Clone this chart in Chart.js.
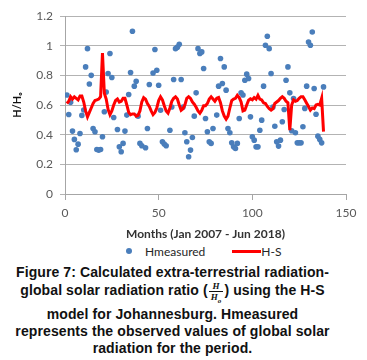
<!DOCTYPE html>
<html>
<head>
<meta charset="utf-8">
<script src="https://cdn.jsdelivr.net/npm/chart.js@4.4.1/dist/chart.umd.min.js"></script>
<style>
  body { margin: 0; background: #fff; width: 367px; height: 360px; overflow: hidden; }
  #wrap { position: relative; width: 367px; height: 244px; }
  #legend { height: 14px; display: flex; align-items: center; padding-left: 126px;
            font: 12px Lato, sans-serif; color: #262626; }
  #legend .dot { width: 6px; height: 6px; border-radius: 50%; margin-right: 13px; }
  #legend .line { width: 29px; height: 3px; }
  #legend .item { display: flex; align-items: center; margin-right: 27px; }
  #caption { width: 345px; margin-top: 6px; text-align: center; letter-spacing: 0.1px;
             font: bold 14px "Liberation Sans", Arial, sans-serif; line-height: 17px; color: #111; }
  #caption .tall { margin-bottom: 4px; }
  .frac { display: inline-block; vertical-align: middle; font: italic bold 9px "Liberation Serif", serif;
          line-height: 10px; text-align: center; margin: 0 1px; }
  .frac span { display: block; padding: 0 2px; }
  .frac .num { border-bottom: 1px solid #111; }
</style>
</head>
<body>
<div id="wrap"><canvas id="chart"></canvas></div>
<div id="legend"></div>
<div id="caption">
  <div>Figure 7: Calculated extra-terrestrial radiation-</div>
  <div class="tall">global solar radiation ratio (<span class="frac"><span class="num">H</span><span>H<sub style="font-size:7px;line-height:0">o</sub></span></span>) using the H-S</div>
  <div>model for Johannesburg. Hmeasured</div>
  <div>represents the observed values of global solar</div>
  <div>radiation for the period.</div>
</div>
<script>
// Hmeasured: month number and observed H/Ho
const measuredMonths = [1, 2, 3, 4, 5, 6, 7, 8, 9, 10, 11, 12, 13, 14, 15, 16, 17, 18, 19, 20,
  21, 22, 23, 24, 25, 26, 28, 29, 30, 31, 32, 33, 34, 35, 36, 37, 38, 39, 40, 41,
  43, 44, 45, 47, 48, 49, 50, 51, 52, 53, 54, 56, 57, 58, 59, 60, 61, 62, 63, 64,
  65, 66, 67, 68, 69, 70, 71, 72, 73, 74, 75, 76, 77, 78, 79, 81, 82, 83, 84, 85,
  86, 87, 88, 89, 90, 91, 92, 93, 94, 95, 96, 97, 98, 99, 100, 101, 102, 103, 104, 105,
  106, 107, 108, 109, 110, 111, 112, 113, 114, 115, 116, 117, 118, 119, 120, 121, 122, 123, 124, 125,
  126, 127, 128, 129, 130, 131, 132, 133, 134, 135, 136, 137, 138];
const measuredValues = [0.667, 0.536, 0.618, 0.424, 0.368, 0.298, 0.336, 0.408, 0.53, 0.566, 0.857, 0.98, 0.742, 0.80, 0.442, 0.42, 0.30, 0.296, 0.30, 0.386,
  0.554, 0.688, 0.812, 0.947, 0.785, 0.516, 0.435, 0.318, 0.285, 0.341, 0.424, 0.532, 0.671, 0.819, 1.097, 0.727, 0.76, 0.525, 0.341, 0.325,
  0.312, 0.442, 0.738, 0.816, 0.974, 0.834, 0.733, 0.565, 0.352, 0.337, 0.325, 0.43, 0.587, 0.772, 0.98, 0.99, 1.01, 0.772, 0.587, 0.413,
  0.352, 0.251, 0.296, 0.381, 0.525, 0.682, 0.98, 0.947, 0.958, 0.846, 0.509, 0.42, 0.352, 0.341, 0.442, 0.532, 0.727, 0.913, 0.745, 0.857,
  0.70, 0.442, 0.413, 0.345, 0.318, 0.307, 0.341, 0.509, 0.682, 0.667, 0.767, 0.808, 0.779, 0.52, 0.386, 0.363, 0.318, 0.318, 0.43, 0.498,
  0.727, 1.003, 1.063, 0.98, 0.812, 0.587, 0.457, 0.352, 0.323, 0.363, 0.487, 0.57, 0.767, 0.857, 0.682, 0.426, 0.644, 0.413, 0.345, 0.345,
  0.345, 0.453, 0.577, 0.727, 1.025, 1.003, 1.092, 0.711, 0.538, 0.39, 0.368, 0.345, 0.722];

// H-S model, one value per month starting Jan 2007 (month 1)
const hsValues = [0.61, 0.625, 0.656, 0.64, 0.655, 0.645, 0.635, 0.66, 0.66, 0.62,
  0.56, 0.52, 0.55, 0.58, 0.61, 0.63, 0.634, 0.64, 0.656, 0.95,
  0.68, 0.64, 0.57, 0.535, 0.56, 0.60, 0.63, 0.64, 0.62, 0.625,
  0.645, 0.645, 0.60, 0.55, 0.535, 0.54, 0.54, 0.525, 0.53, 0.56,
  0.62, 0.65, 0.64, 0.61, 0.59, 0.56, 0.535, 0.55, 0.58, 0.63,
  0.655, 0.635, 0.595, 0.56, 0.545, 0.58, 0.625, 0.645, 0.655, 0.64,
  0.60, 0.565, 0.575, 0.60, 0.645, 0.656, 0.645, 0.62, 0.605, 0.585,
  0.56, 0.545, 0.565, 0.595, 0.595, 0.61, 0.64, 0.655, 0.64, 0.625,
  0.645, 0.65, 0.615, 0.56, 0.525, 0.505, 0.525, 0.58, 0.63, 0.64,
  0.645, 0.665, 0.65, 0.62, 0.56, 0.565, 0.60, 0.632, 0.642, 0.635,
  0.65, 0.64, 0.665, 0.64, 0.634, 0.615, 0.61, 0.59, 0.575, 0.566,
  0.575, 0.61, 0.62, 0.63, 0.645, 0.656, 0.645, 0.625, 0.615, 0.43,
  0.60, 0.634, 0.625, 0.63, 0.645, 0.656, 0.656, 0.635, 0.612, 0.59,
  0.566, 0.58, 0.575, 0.60, 0.605, 0.60, 0.645, 0.42];

const xTicks = [0, 50, 100, 150];
const yTicks = [0, 0.2, 0.4, 0.6, 0.8, 1, 1.2];

const blue = '#4a7ebb';
const red = '#ff0000';
const tickFont = { family: 'Lato', size: 12 };

const measuredPoints = measuredMonths.map((m, i) => ({ x: m, y: measuredValues[i] }));
const hsPoints = hsValues.map((v, i) => ({ x: i + 1, y: v }));

const ctx = document.getElementById('chart').getContext('2d');
const chart = new Chart(ctx, {
  type: 'scatter',
  data: {
    datasets: [
      {
        label: 'Hmeasured',
        data: measuredPoints,
        backgroundColor: blue,
        borderColor: blue,
        pointRadius: 2.8,
        borderWidth: 0,
        order: 1
      },
      {
        label: 'H-S',
        data: hsPoints,
        showLine: true,
        borderColor: red,
        backgroundColor: red,
        borderWidth: 3,
        pointRadius: 0,
        tension: 0,
        order: 0
      }
    ]
  },
  options: {
    responsive: true,
    maintainAspectRatio: false,
    animation: false,
    layout: { padding: { top: 16, right: 21, left: 0, bottom: 0 } },
    plugins: {
      legend: { display: false },
      tooltip: { enabled: false }
    },
    scales: {
      x: {
        type: 'linear',
        min: 0,
        max: 150,
        afterBuildTicks: axis => { axis.ticks = xTicks.map(v => ({ value: v })); },
        afterFit: axis => { axis.height = 50; },
        ticks: { font: tickFont, color: '#595959', padding: 6, maxRotation: 0 },
        grid: { drawOnChartArea: false, tickLength: 6, color: '#a6a6a6' },
        border: { color: '#a6a6a6' },
        title: {
          display: true,
          text: 'Months (Jan 2007 - Jun 2018)',
          font: { family: 'Lato', size: 12, weight: 'bold' },
          color: '#333',
          padding: { top: 0, bottom: 3 }
        }
      },
      y: {
        min: 0,
        max: 1.2,
        afterBuildTicks: axis => { axis.ticks = yTicks.map(v => ({ value: v })); },
        afterFit: axis => { axis.width = 65; },
        ticks: {
          font: tickFont,
          color: '#595959',
          padding: 7,
          callback: v => String(Math.round(v * 10) / 10)
        },
        grid: { color: '#b3b3b3', tickLength: 5 },
        border: { color: '#a6a6a6' },
        title: {
          display: true,
          text: 'H/H\u2092',
          font: { family: 'Lato', size: 11, weight: 'bold' },
          color: '#111',
          padding: { top: 11, bottom: 0 }
        }
      }
    }
  }
});

// legend built from the datasets
const legend = document.getElementById('legend');
chart.data.datasets.forEach(ds => {
  const item = document.createElement('div');
  item.className = 'item';
  const mark = document.createElement('span');
  if (ds.showLine) {
    mark.className = 'line';
  } else {
    mark.className = 'dot';
  }
  mark.style.background = ds.borderColor;
  const text = document.createElement('span');
  text.textContent = ds.label;
  item.appendChild(mark);
  item.appendChild(text);
  legend.appendChild(item);
});
</script>
</body>
</html>
